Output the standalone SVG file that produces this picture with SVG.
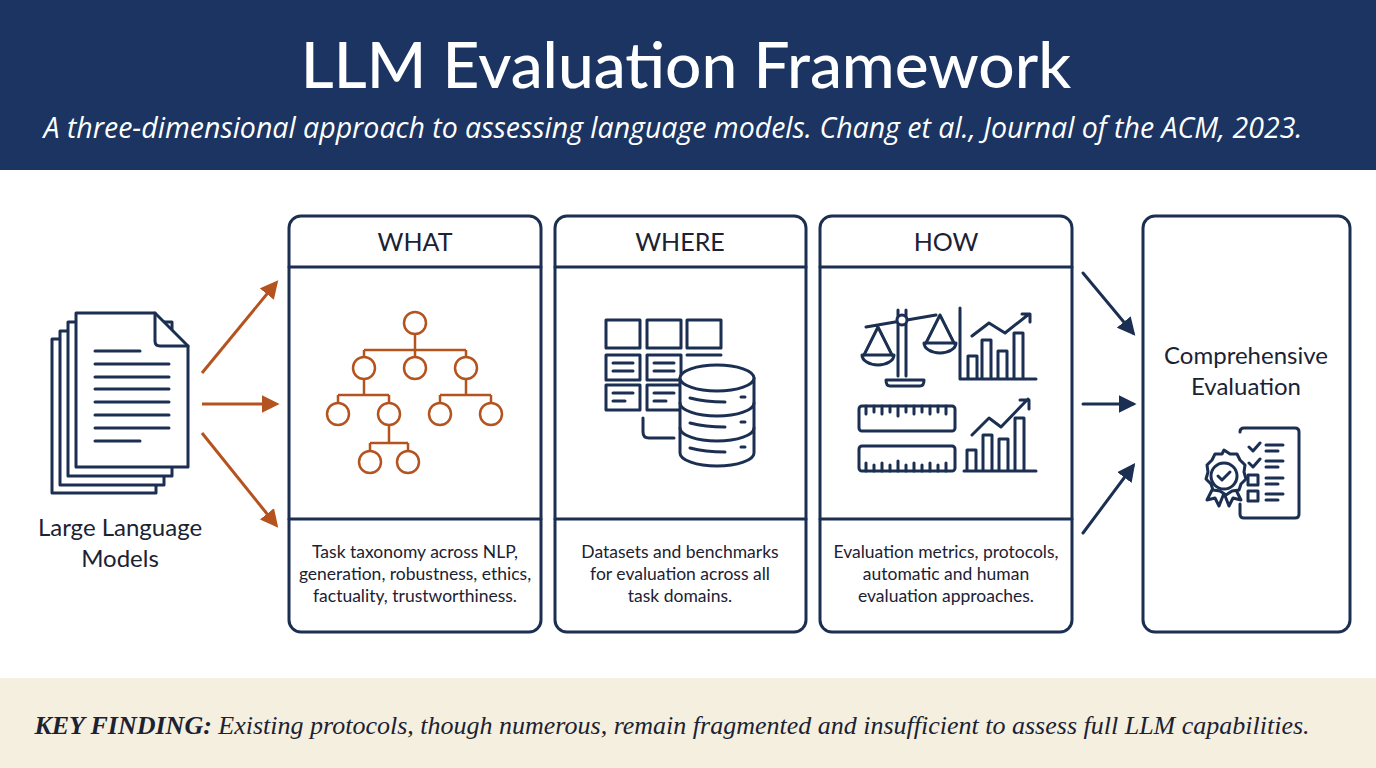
<svg xmlns="http://www.w3.org/2000/svg" width="1376" height="768" viewBox="0 0 1376 768">
<defs>
<style>
.box{fill:#fff;stroke:#1b2f52;stroke-width:3}
.ln{fill:none;stroke:#1b2f52;stroke-width:3;stroke-linecap:round;stroke-linejoin:round}
.or{fill:none;stroke:#b5531f;stroke-width:3}
.sans{font-family:Lato,"Liberation Sans",sans-serif;fill:#1b2233}
.hd{font-size:25px;text-anchor:middle}
.ds{font-size:17.5px;text-anchor:middle}
</style>
<marker id="ao" viewBox="0 0 10 10" refX="8" refY="5" markerWidth="6" markerHeight="6" orient="auto"><path d="M0,0 L10,5 L0,10 z" fill="#b5531f"/></marker>
<marker id="an" viewBox="0 0 10 10" refX="8" refY="5" markerWidth="6" markerHeight="6" orient="auto"><path d="M0,0 L10,5 L0,10 z" fill="#1b2f52"/></marker>
</defs>
<rect width="1376" height="768" fill="#fff"/>
<rect width="1376" height="170" fill="#1b3461"/>
<text x="686" y="88" text-anchor="middle" font-family="Lato,'Open Sans',sans-serif" font-size="64" font-weight="500" fill="#fff">LLM Evaluation Framework</text>
<text x="673" y="138" text-anchor="middle" font-family="'Open Sans','Liberation Sans',sans-serif" font-size="28.5" font-style="italic" fill="#fff">A three-dimensional approach to assessing language models. Chang et al., Journal of the ACM, 2023.</text>
<rect y="678" width="1376" height="90" fill="#f5efdf"/>
<text x="672" y="734" text-anchor="middle" font-family="'Liberation Serif',serif" font-size="26" font-style="italic" fill="#1b2233"><tspan font-weight="bold">KEY FINDING:</tspan> Existing protocols, though numerous, remain fragmented and insufficient to assess full LLM capabilities.</text>

<g id="llm">
<path class="ln" d="M52,339 h104 v154 h-104 z" style="fill:#fff"/>
<path class="ln" d="M60,331 h104 v154 h-104 z" style="fill:#fff"/>
<path class="ln" d="M68,322 h104 v154 h-104 z" style="fill:#fff"/>
<path class="ln" d="M76,313 h79 l33,33 v121 h-112 z" style="fill:#fff"/>
<path class="ln" d="M155,313 v28 q0,5 5,5 h28"/>
<path class="ln" d="M95,351 h45 M95,364 h74 M95,377 h74 M95,389 h74 M95,402 h74 M95,415 h74 M95,428 h74 M95,441 h45"/>
<text class="sans" x="120" y="536" font-size="24" text-anchor="middle">Large Language</text>
<text class="sans" x="120" y="567" font-size="24" text-anchor="middle">Models</text>
</g>

<g id="what">
<rect class="box" x="289" y="216" width="252" height="416" rx="12"/>
<path class="ln" d="M289,267 h252 M289,519 h252"/>
<text class="sans hd" x="415" y="251">WHAT</text>
<g fill="none" stroke="#b5531f" stroke-width="2.5">
<path d="M415,334 v16 M364,350 h102 M364,350 v7 M415,350 v7 M466,350 v7 M364,379 v16 M338,395 h51 M338,395 v8 M389,395 v8 M466,379 v16 M440,395 h51 M440,395 v8 M491,395 v8 M389,425 v18 M370,443 h38 M370,443 v8 M408,443 v8"/>
<circle cx="415" cy="323" r="11"/><circle cx="364" cy="368" r="11"/><circle cx="415" cy="368" r="11"/><circle cx="466" cy="368" r="11"/>
<circle cx="338" cy="414" r="11"/><circle cx="389" cy="414" r="11"/><circle cx="440" cy="414" r="11"/><circle cx="491" cy="414" r="11"/>
<circle cx="370" cy="462" r="11"/><circle cx="408" cy="462" r="11"/>
</g>
<text class="sans ds" x="415" y="558">Task taxonomy across NLP,</text>
<text class="sans ds" x="415" y="580">generation, robustness, ethics,</text>
<text class="sans ds" x="415" y="602">factuality, trustworthiness.</text>
</g>

<g id="where">
<rect class="box" x="555" y="216" width="251" height="416" rx="12"/>
<path class="ln" d="M555,267 h251 M555,519 h251"/>
<text class="sans hd" x="680" y="251">WHERE</text>
<g class="ln" stroke-width="2.5">
<rect x="606" y="320" width="34" height="28"/><rect x="647" y="320" width="34" height="28"/><rect x="687" y="320" width="34" height="28"/>
<rect x="606" y="355" width="34" height="25"/><rect x="647" y="355" width="34" height="25"/>
<rect x="606" y="385" width="34" height="25"/><rect x="647" y="385" width="34" height="25"/>
<path d="M687,355 h34 M613,363 h20 M613,371 h20 M654,363 h20 M654,371 h20 M613,393 h20 M613,401 h12 M654,393 h20 M654,401 h12 M643,418 v14 q0,6 6,6 h25"/>
<path d="M680,378 v75 a37,13 0 0 0 74,0 v-75" fill="#fff"/>
<ellipse cx="717" cy="378" rx="37" ry="13" fill="#fff"/>
<path d="M680,403 a37,13 0 0 0 74,0 M680,428 a37,13 0 0 0 74,0 M690,398 q15,4 35,4 M741,397 h4 M690,423 q15,4 35,4 M741,422 h4 M690,448 q15,4 35,4 M741,447 h4"/>
</g>
<text class="sans ds" x="680" y="558">Datasets and benchmarks</text>
<text class="sans ds" x="680" y="580">for evaluation across all</text>
<text class="sans ds" x="680" y="602">task domains.</text>
</g>

<g id="how">
<rect class="box" x="820" y="216" width="252" height="416" rx="12"/>
<path class="ln" d="M820,267 h252 M820,519 h252"/>
<text class="sans hd" x="946" y="251">HOW</text>
<g class="ln" stroke-width="2.5">
<path d="M898,310 v66 M906,310 v66 M896,386 h24 q4,0 4,-6 h-38 q0,6 4,6 z M866,327 l70,-12 M878,327 l-14,28 M878,327 l14,28 M940,315 l-14,28 M940,315 l14,28"/>
<circle cx="902" cy="320" r="5" fill="#fff"/>
<path d="M862,355 a16,10 0 0 0 32,0 z M924,343 a16,10 0 0 0 32,0 z"/>
<path d="M960,308 v71 h76 M968,378 v-22 h9 v22 M982,378 v-38 h9 v38 M998,378 v-27 h9 v27 M1014,378 v-45 h9 v45 M972,336 l17,-13 l16,10 l24,-19 M1022,314 h8 v8"/>
<rect x="859" y="406" width="96" height="25" rx="3"/>
<rect x="859" y="446" width="96" height="25" rx="3"/>
<path d="M866,406 v8 M874,406 v6 M882,406 v8 M890,406 v6 M898,406 v10 M906,406 v6 M914,406 v8 M922,406 v6 M930,406 v8 M938,406 v6 M946,406 v8 M866,471 v-8 M874,471 v-6 M882,471 v-8 M890,471 v-6 M898,471 v-10 M906,471 v-6 M914,471 v-8 M922,471 v-6 M930,471 v-8 M938,471 v-6 M946,471 v-8"/>
<path d="M964,471 h72 M967,470 v-20 h9 v20 M983,470 v-35 h9 v35 M999,470 v-31 h9 v31 M1015,470 v-52 h9 v52 M972,435 l17,-17 l12,9 l27,-28 M1020,400 h9 v9"/>
</g>
<text class="sans ds" x="946" y="558">Evaluation metrics, protocols,</text>
<text class="sans ds" x="946" y="580">automatic and human</text>
<text class="sans ds" x="946" y="602">evaluation approaches.</text>
</g>

<g id="result">
<rect class="box" x="1143" y="216" width="207" height="416" rx="12"/>
<text class="sans" x="1246" y="364" font-size="24" text-anchor="middle">Comprehensive</text>
<text class="sans" x="1246" y="395" font-size="24" text-anchor="middle">Evaluation</text>
<g class="ln" stroke-width="2.5">
<path d="M1240,432 q0,-4 4,-4 h51 q4,0 4,4 v82 q0,4 -4,4 h-51 q-4,0 -4,-4 v-10"/>
<path d="M1249,447 l4,4 l7,-8 M1266,445 h17 M1266,451 h12 M1249,463 l4,4 l7,-8 M1266,461 h17 M1266,467 h12 M1266,478 h17 M1266,484 h12 M1266,494 h17 M1266,500 h12"/>
<rect x="1248" y="475" width="10" height="10"/><rect x="1248" y="491" width="10" height="10"/>
<path d="M1219,476 l-12,24 l8,-2 l4,8 l7,-18 M1229,476 l12,24 l-8,-2 l-4,8 l-7,-18"/>
<path d="M1224,450 l6,4 l7,0 l3,6 l5,5 l-1,7 l2,7 l-5,5 l-2,6 l-7,1 l-6,4 l-6,-4 l-7,-1 l-2,-6 l-5,-5 l2,-7 l-1,-7 l5,-5 l3,-6 l7,0 z" fill="#fff"/>
<circle cx="1224" cy="476" r="13"/>
<path d="M1218,476 l4,4 l8,-8"/>
</g>
</g>

<g id="connectors">
<path class="or" d="M202,373 L276,283" marker-end="url(#ao)"/>
<path class="or" d="M202,404 L276,404" marker-end="url(#ao)"/>
<path class="or" d="M202,433 L276,525" marker-end="url(#ao)"/>
<path class="ln" d="M1083,273 L1133,333" marker-end="url(#an)"/>
<path class="ln" d="M1083,404 L1133,404" marker-end="url(#an)"/>
<path class="ln" d="M1083,533 L1133,466" marker-end="url(#an)"/>
</g>
</svg>
